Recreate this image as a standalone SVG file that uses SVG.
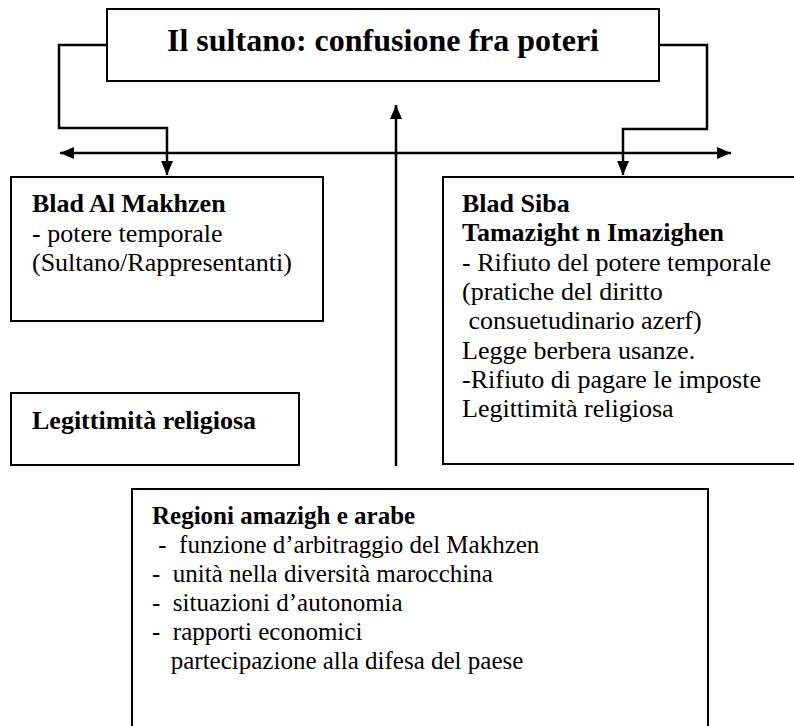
<svg xmlns="http://www.w3.org/2000/svg" width="794" height="726" viewBox="0 0 794 726">
<style>
.box{fill:#fff;stroke:#000;stroke-width:2}
.ln{fill:none;stroke:#000;stroke-width:2.5}
text{font-family:'Liberation Serif','Times New Roman',serif;font-size:26px;fill:#000}
.b{font-weight:bold}
.r{font-size:25px}
</style>
<defs>
<marker id="ah" markerWidth="14" markerHeight="12" refX="14" refY="6" orient="auto" markerUnits="userSpaceOnUse">
<path d="M0,0 L14,6 L0,12 Z" fill="#000"/>
</marker>
</defs>
<rect width="794" height="726" fill="#fff"/>
<g id="connectors">
<path class="ln" d="M107,45 H59 V128 H167 V175" marker-end="url(#ah)"/>
<path class="ln" d="M659,45 H707 V129 H623 V175" marker-end="url(#ah)"/>
<path class="ln" d="M396,153 H60" marker-end="url(#ah)"/>
<path class="ln" d="M396,153 H731" marker-end="url(#ah)"/>
<path class="ln" d="M396,466 V105" marker-end="url(#ah)"/>
</g>
<g id="sultano">
<rect class="box" x="107" y="9" width="552" height="72"/>
<text class="b" x="167" y="51" style="font-size:32px">Il sultano: confusione fra poteri</text>
</g>
<g id="makhzen">
<rect class="box" x="11" y="177" width="312" height="144"/>
<text x="32" y="212"><tspan class="b">Blad Al Makhzen</tspan><tspan x="32" dy="29.5">- potere temporale</tspan><tspan x="32" dy="29.5">(Sultano/Rappresentanti)</tspan></text>
</g>
<g id="legittimita">
<rect class="box" x="11" y="393" width="288" height="72"/>
<text class="b" x="32" y="429">Legittimità religiosa</text>
</g>
<g id="siba">
<rect class="box" x="443" y="177" width="360" height="287"/>
<text x="462" y="212"><tspan class="b">Blad Siba</tspan><tspan class="b" x="462" dy="29.3">Tamazight n Imazighen</tspan><tspan x="462" dy="29.3">- Rifiuto del potere temporale</tspan><tspan x="462" dy="29.3">(pratiche del diritto</tspan><tspan x="462" dy="29.3"> consuetudinario azerf)</tspan><tspan x="462" dy="29.3">Legge berbera usanze.</tspan><tspan x="462" dy="29.3">-Rifiuto di pagare le imposte</tspan><tspan x="462" dy="29.3">Legittimità religiosa</tspan></text>
</g>
<g id="regioni">
<rect class="box" x="132" y="489" width="576" height="260"/>
<text class="r" x="152" y="524" xml:space="preserve"><tspan class="b">Regioni amazigh e arabe</tspan><tspan x="152" dy="29"> -  funzione d’arbitraggio del Makhzen</tspan><tspan x="152" dy="29">-  unità nella diversità marocchina</tspan><tspan x="152" dy="29">-  situazioni d’autonomia</tspan><tspan x="152" dy="29">-  rapporti economici</tspan><tspan x="152" dy="29">   partecipazione alla difesa del paese</tspan></text>
</g>
</svg>
